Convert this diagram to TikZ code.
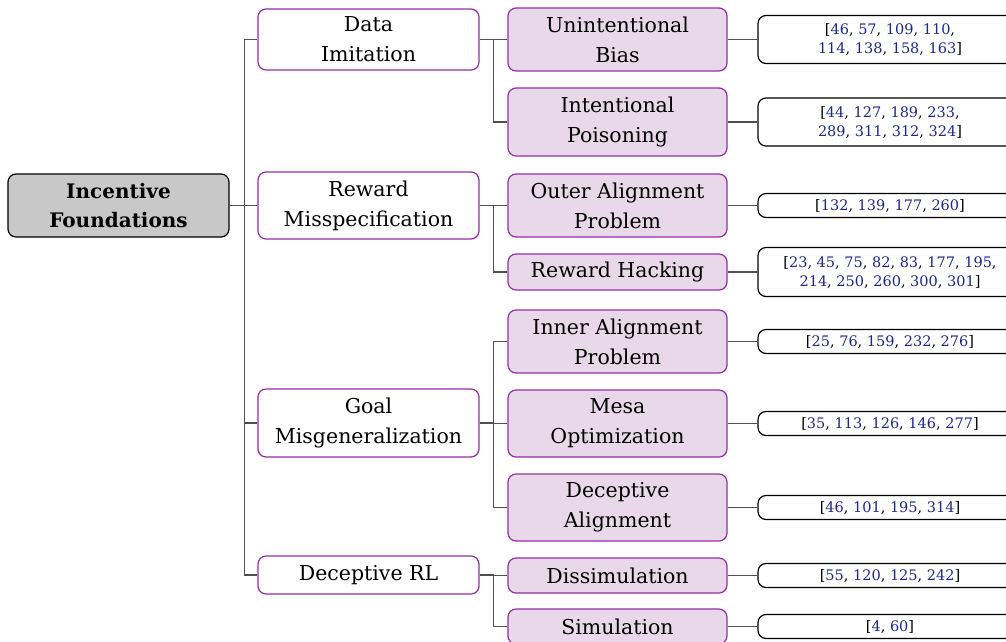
\documentclass[tikz,border=0pt]{standalone}
\usepackage{fontspec}
\setmainfont{DejaVu Serif}
\definecolor{edgepurple}{RGB}{150,45,165}
\definecolor{subfill}{RGB}{233,216,233}
\definecolor{rootfill}{RGB}{200,200,200}
\definecolor{refblue}{RGB}{30,40,140}
\definecolor{linkgray}{RGB}{80,80,80}
\newcommand\rn[1]{\textcolor{refblue}{#1}}
\tikzset{
  box/.style={rounded corners=8pt, inner sep=0pt, align=center, line width=1.2pt},
  rootbox/.style={box, draw=black, fill=rootfill, minimum width=221pt,
    font=\bfseries\fontsize{20}{29}\selectfont},
  topicbox/.style={box, draw=edgepurple, fill=white, minimum width=221pt,
    font=\fontsize{20.5}{30}\selectfont},
  subbox/.style={box, draw=edgepurple, fill=subfill, minimum width=219pt,
    font=\fontsize{20.5}{30}\selectfont},
  refbox/.style={box, draw=black, fill=white, minimum width=264pt, minimum height=24pt,
    font=\fontsize{14.5}{19}\selectfont},
  conn/.style={draw=linkgray, line width=1.6pt}
}
\begin{document}
\begin{tikzpicture}[x=1pt, y=-1pt]
\useasboundingbox (0,0) rectangle (1006,641);
\clip (0,0) rectangle (1006,641);

% root
\node[rootbox, minimum height=63pt] (root) at (118.5,205.5) {Incentive\\Foundations};

% first level
\node[topicbox, minimum height=61pt] (di) at (368.5,39.5) {Data\\Imitation};
\node[topicbox, minimum height=67pt] (rm) at (368.5,205.5) {Reward\\Misspecification};
\node[topicbox, minimum height=68pt] (gm) at (368.5,423) {Goal\\Misgeneralization};
\node[topicbox, minimum height=38pt] (dr) at (368.5,575) {Deceptive RL};

% second level
\node[subbox, minimum height=63pt] (ub) at (617.5,39.5) {Unintentional\\Bias};
\node[subbox, minimum height=68pt] (ip) at (617.5,122) {Intentional\\Poisoning};
\node[subbox, minimum height=63pt] (oa) at (617.5,205.5) {Outer Alignment\\Problem};
\node[subbox, minimum height=36pt] (rh) at (617.5,272) {Reward Hacking};
\node[subbox, minimum height=63pt] (ia) at (617.5,341.5) {Inner Alignment\\Problem};
\node[subbox, minimum height=67pt] (mo) at (617.5,423.5) {Mesa\\Optimization};
\node[subbox, minimum height=67pt] (da) at (617.5,507.5) {Deceptive\\Alignment};
\node[subbox, minimum height=35pt] (ds) at (617.5,575.5) {Dissimulation};
\node[subbox, minimum height=35pt] (sm) at (617.5,626.5) {Simulation};

% references
\node[refbox, minimum height=48pt] (r1) at (890,39.5) {[\rn{46}, \rn{57}, \rn{109}, \rn{110},\\\rn{114}, \rn{138}, \rn{158}, \rn{163}]};
\node[refbox, minimum height=48pt] (r2) at (890,122) {[\rn{44}, \rn{127}, \rn{189}, \rn{233},\\\rn{289}, \rn{311}, \rn{312}, \rn{324}]};
\node[refbox] (r3) at (890,205.5) {[\rn{132}, \rn{139}, \rn{177}, \rn{260}]};
\node[refbox, minimum height=49pt] (r4) at (890,272) {[\rn{23}, \rn{45}, \rn{75}, \rn{82}, \rn{83}, \rn{177}, \rn{195},\\\rn{214}, \rn{250}, \rn{260}, \rn{300}, \rn{301}]};
\node[refbox] (r5) at (890,341.5) {[\rn{25}, \rn{76}, \rn{159}, \rn{232}, \rn{276}]};
\node[refbox] (r6) at (890,423.5) {[\rn{35}, \rn{113}, \rn{126}, \rn{146}, \rn{277}]};
\node[refbox] (r7) at (890,507.5) {[\rn{46}, \rn{101}, \rn{195}, \rn{314}]};
\node[refbox] (r8) at (890,575.5) {[\rn{55}, \rn{120}, \rn{125}, \rn{242}]};
\node[refbox] (r9) at (890,626.5) {[\rn{4}, \rn{60}]};

% root to first level
\foreach \t in {di,rm,gm,dr}
  \draw[conn] (root.east) -- ([xshift=15pt]root.east) |- (\t.west);

% first level to second level
\foreach \p/\c in {di/ub,di/ip,rm/oa,rm/rh,gm/ia,gm/mo,gm/da,dr/ds,dr/sm}
  \draw[conn] (\p.east) -- ([xshift=14pt]\p.east) |- (\c.west);

% second level to references
\foreach \c/\r in {ub/r1,ip/r2,oa/r3,rh/r4,ia/r5,mo/r6,da/r7,ds/r8,sm/r9}
  \draw[conn] (\c.east) -- (\r.west);
\end{tikzpicture}
\end{document}
